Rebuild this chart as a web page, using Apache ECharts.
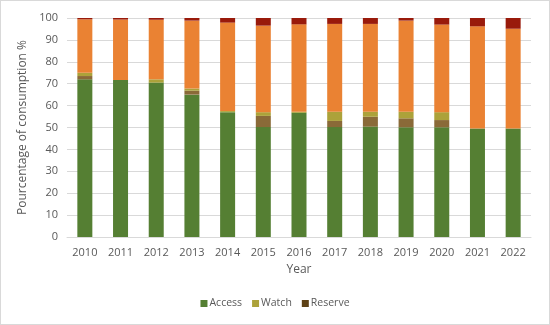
<!DOCTYPE html>
<html>
<head>
<meta charset="utf-8">
<script src="https://cdn.jsdelivr.net/npm/echarts@6/dist/echarts.min.js"></script>
<style>
html,body{margin:0;padding:0;background:#fff;}
#c{width:550px;height:325px;box-sizing:border-box;border:1px solid #d9d9d9;}
</style>
</head>
<body>
<div id="c"></div>
<script>
var years = ['2010','2011','2012','2013','2014','2015','2016','2017','2018','2019','2020','2021','2022'];
var yTicks = [0,10,20,30,40,50,60,70,80,90,100];
var access   = [72.0, 71.7, 70.5, 65.0, 57.0, 50.2, 56.7, 50.2, 50.4, 50.1, 50.1, 49.6, 49.6];
var reserve  = [1.5, 0, 0, 1.8, 0, 5.1, 0, 2.8, 4.5, 4.1, 3.3, 0, 0];
var watch    = [1.5, 0, 1.5, 1.0, 0.5, 1.7, 0.5, 4.2, 2.3, 3.0, 3.6, 0, 0];
var orangeSeg= [24.4, 27.6, 27.2, 31.0, 40.4, 39.5, 39.9, 40.1, 40.1, 41.6, 40.0, 46.6, 45.5];
var topSeg   = [0.6, 0.7, 0.8, 1.2, 2.1, 3.5, 2.9, 2.7, 2.7, 1.2, 3.0, 3.8, 4.9];

var font = 'Open Sans, Liberation Sans, sans-serif';
var chart = echarts.init(document.getElementById('c'), null, {renderer:'canvas'});
function bar(name, data, color){
  return {name:name, type:'bar', stack:'s', data:data, barWidth:15,
          itemStyle:{color:color}, emphasis:{disabled:true}};
}
chart.setOption({
  animation:false,
  grid:{left:66, right:18, top:17, bottom:87},
  legend:{
    bottom:10, left:'center', itemWidth:7, itemHeight:7, itemGap:10,
    icon:'rect',
    textStyle:{fontFamily:font, fontSize:10.5, color:'#595959', padding:[0,0,0,-3]},
    data:[{name:'Access'},{name:'Watch'},{name:'Reserve', itemStyle:{color:'#5e4216'}}]
  },
  xAxis:{
    type:'category', data:years,
    name:'Year', nameLocation:'middle', nameGap:27,
    nameTextStyle:{fontFamily:font, fontSize:12, color:'#595959'},
    axisLine:{lineStyle:{color:'#d9d9d9'}}, axisTick:{show:false},
    axisLabel:{fontFamily:font, fontSize:11, color:'#595959', margin:10, interval:0}
  },
  yAxis:{
    type:'value', min:0, max:100, interval:10,
    name:'Pourcentage of consumption %', nameLocation:'middle', nameGap:34,
    nameTextStyle:{fontFamily:font, fontSize:12, color:'#595959'},
    axisLine:{show:false}, axisTick:{show:false},
    axisLabel:{fontFamily:font, fontSize:11, color:'#595959', margin:9,
      formatter:function(v){return yTicks.indexOf(v)>=0?String(v):'';}},
    splitLine:{lineStyle:{color:'#d9d9d9'}}
  },
  series:[
    bar('Access', access, '#557f33'),
    bar('Reserve', reserve, '#8a6a38'),
    bar('Watch', watch, '#aca23a'),
    bar('Other', orangeSeg, '#ea8233'),
    bar('Top', topSeg, '#991a0b')
  ]
});
</script>
</body>
</html>
